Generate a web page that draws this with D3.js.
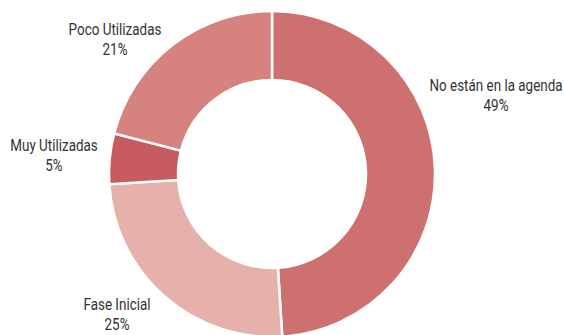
<!DOCTYPE html>
<html>
<head>
<meta charset="utf-8">
<script src="https://cdn.jsdelivr.net/npm/d3@7"></script>
<style>
  html, body { margin: 0; padding: 0; background: #ffffff; }
  svg { display: block; }
  text { font-family: Roboto, "Liberation Sans", Arial, sans-serif; fill: #333333; }
</style>
</head>
<body>
<script>
// Share of respondents by usage stage
const categories = ["No están en la agenda", "Fase Inicial", "Muy Utilizadas", "Poco Utilizadas"];
const values = [49, 25, 5, 21];
const colors = ["#cf7070", "#e6b0ab", "#c85b5f", "#d6837f"];

// Label anchors (centre of the two-line label, first baseline)
const labelAnchors = [[496, 91], [117, 310], [54, 151], [115, 35]];

const width = 564, height = 335;
const cx = 272, cy = 174;
const outerR = 163, innerR = 94;
const narrow = 0.84; // horizontal squeeze for a condensed look

const svg = d3.select("body").append("svg")
  .attr("width", width).attr("height", height);

const data = categories.map((c, i) => ({ name: c, value: values[i], color: colors[i], anchor: labelAnchors[i] }));

const pie = d3.pie().value(d => d.value).sort(null);
const arc = d3.arc().innerRadius(innerR).outerRadius(outerR);

const g = svg.append("g").attr("transform", `translate(${cx},${cy})`);

g.selectAll("path")
  .data(pie(data))
  .join("path")
  .attr("d", arc)
  .attr("fill", d => d.data.color)
  .attr("stroke", "#ffffff")
  .attr("stroke-width", 2.5)
  .attr("stroke-linejoin", "miter");

const labels = svg.append("g").selectAll("text")
  .data(data)
  .join("text")
  .attr("text-anchor", "middle")
  .attr("font-size", 16)
  .attr("transform", d => `translate(${d.anchor[0]},${d.anchor[1]}) scale(${narrow},1)`);

labels.append("tspan")
  .attr("x", 0)
  .text(d => d.name);

labels.append("tspan")
  .attr("x", 0)
  .attr("dy", 20)
  .text(d => d.value + "%");
</script>
</body>
</html>
